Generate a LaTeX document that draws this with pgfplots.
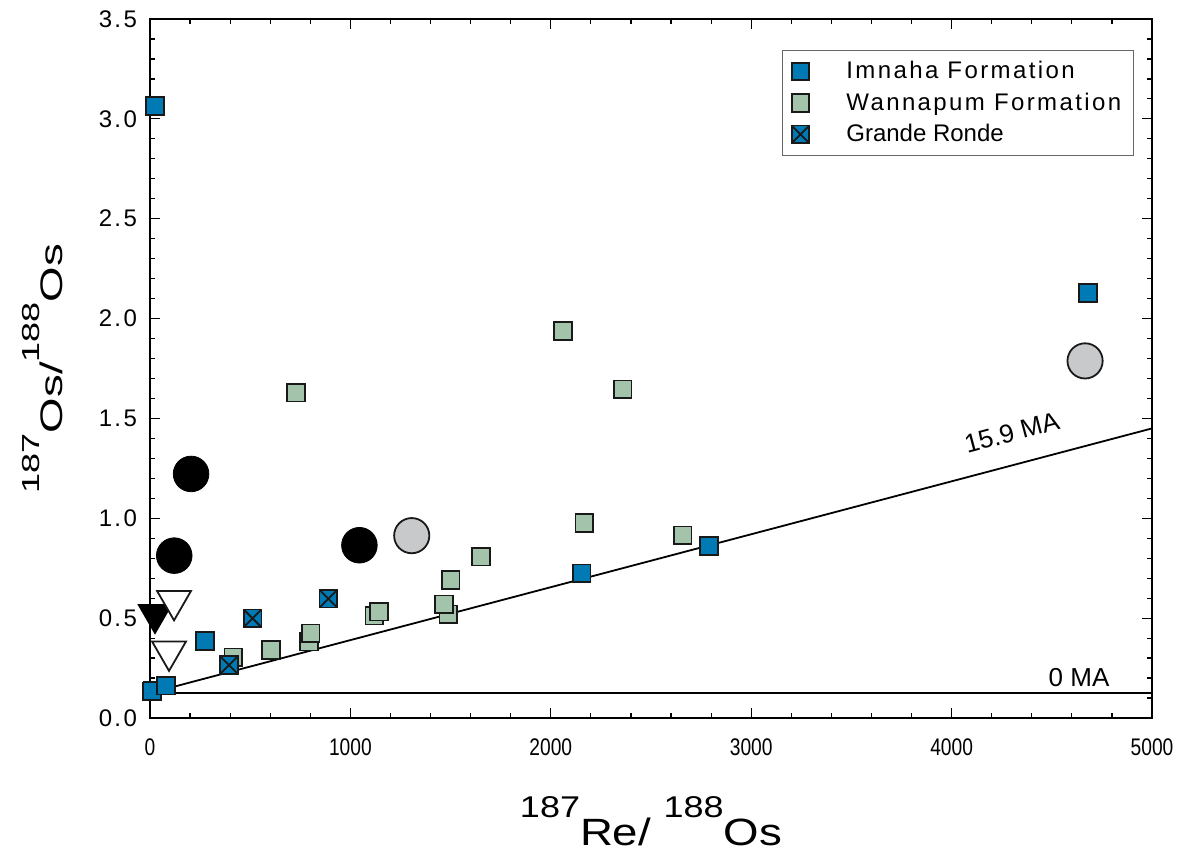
\documentclass[border=0pt]{standalone}
\usepackage{fontspec}
\setmainfont{Liberation Sans}
\newfontfamily\spaced[LetterSpace=10]{Liberation Sans}
\usepackage{graphicx}
\usepackage{pgfplots}
\pgfplotsset{compat=1.18}

\definecolor{imnaha}{RGB}{0,122,180}
\definecolor{wannapum}{RGB}{163,196,171}
\definecolor{paleGray}{RGB}{200,201,203}
\definecolor{edge}{RGB}{25,25,25}

% filled square crossed by both diagonals
\pgfdeclareplotmark{xsquare*}{%
  \pgfpathrectanglecorners{\pgfqpoint{-\pgfplotmarksize}{-\pgfplotmarksize}}{\pgfqpoint{\pgfplotmarksize}{\pgfplotmarksize}}%
  \pgfusepathqfillstroke
  \pgfpathmoveto{\pgfqpoint{-\pgfplotmarksize}{-\pgfplotmarksize}}%
  \pgfpathlineto{\pgfqpoint{\pgfplotmarksize}{\pgfplotmarksize}}%
  \pgfpathmoveto{\pgfqpoint{-\pgfplotmarksize}{\pgfplotmarksize}}%
  \pgfpathlineto{\pgfqpoint{\pgfplotmarksize}{-\pgfplotmarksize}}%
  \pgfusepathqstroke
}

% isotope with raised mass number
\newcommand{\iso}[2]{\raisebox{14pt}{\fontsize{15}{15}\selectfont #1}#2}

\pgfplotsset{
  pts/.style={only marks, line width=0.9pt,
    legend image code/.code={%
      \draw[##1] plot coordinates {(4.5pt,0pt)};
      \path (0pt,0pt) (25pt,0pt);}},
}

\begin{document}
\begin{tikzpicture}
\begin{axis}[
  name=ax,
  scale only axis,
  width=501pt, height=349.5pt,
  xmin=0, xmax=5000, ymin=0, ymax=3.5,
  xtick={0,1000,2000,3000,4000,5000},
  ytick={0,0.5,1,1.5,2,2.5,3,3.5},
  minor x tick num=4,
  minor y tick num=4,
  tick align=inside,
  major tick length=5pt,
  minor tick length=2.5pt,
  tick style={black, line width=0.6pt},
  axis line style={line width=1pt, black},
  /pgf/number format/assume math mode=true,
  tick label style={font=\fontsize{12}{14}\selectfont},
  yticklabel style={/pgf/number format/fixed, /pgf/number format/fixed zerofill,
    /pgf/number format/precision=1, font=\fontsize{12}{14}\selectfont\spaced, xshift=-3pt},
  xticklabel={\scalebox{0.8}[1]{\pgfmathprintnumber[1000 sep={}]{\tick}}},
  xticklabel style={yshift=-7pt},
  xlabel={\scalebox{1.2}[1]{\iso{187}{Re}/ \iso{188}{Os}}},
  ylabel={\scalebox{1.2}[0.82]{\iso{187}{Os}/\iso{188}{Os}}},
  every axis x label/.style={at={(axis description cs:0.5,-0.1817)}, anchor=base,
    font=\fontsize{19}{22}\selectfont},
  every axis y label/.style={at={(axis description cs:-0.0878,0.5)}, rotate=90, anchor=base,
    font=\fontsize{19}{22}\selectfont},
  legend style={at={(0.6307,0.956)}, anchor=north west, draw=gray!80!black,
    line width=0.6pt, inner xsep=4pt, inner ysep=3.5pt, row sep=1.5pt,
    nodes={inner sep=2pt}, font=\fontsize{12}{14}\selectfont},
  legend cell align=left,
  clip=false,
]

% reference isochrons
\addplot[black, line width=0.9pt, forget plot] coordinates {(0,0.125) (5000,0.125)};
\addplot[black, line width=0.9pt, forget plot] coordinates {(0,0.125) (5000,1.45)};
\node[rotate=15, font=\fontsize{13}{15}\selectfont] at (axis cs:4300,1.43) {15.9 MA};
\node[font=\fontsize{13}{15}\selectfont] at (axis cs:4636,0.205) {0 MA};

% Imnaha Formation
\addplot[pts, mark=square*, mark size=4.4pt, draw=edge, fill=imnaha] coordinates {
  (8,0.132) (11,0.136) (80,0.162) (274,0.386) (2154,0.725) (2789,0.861)
  (4681,2.128) (25,3.065)
};
\addlegendentry{\spaced Imnaha Formation}

% Wannapum Formation
\addplot[pts, mark=square*, mark size=4.4pt, draw=edge, fill=wannapum] coordinates {
  (416,0.304) (604,0.340) (793,0.382) (802,0.424) (1119,0.512) (1143,0.532)
  (1489,0.519) (1467,0.569) (1500,0.691) (1652,0.808) (2167,0.976)
  (2658,0.915) (729,1.629) (2061,1.938) (2359,1.646)
};
\addlegendentry{\spaced Wannapum Formation}

% Grande Ronde
\addplot[pts, mark=xsquare*, mark size=4.4pt, draw=edge, fill=imnaha] coordinates {
  (394,0.265) (512,0.499) (890,0.597)
};
\addlegendentry{Grande Ronde}

% other samples
\addplot[only marks, mark=*, mark size=8.9pt, draw=black, fill=black, forget plot] coordinates {
  (121,0.813) (205,1.222) (1045,0.865)
};
\addplot[only marks, mark=*, mark size=8.8pt, line width=0.9pt, draw=edge, fill=paleGray, forget plot] coordinates {
  (1306,0.913) (4666,1.788)
};
\addplot[only marks, mark=triangle*, mark size=9.3pt, mark options={rotate=180}, line width=0.9pt, draw=black, fill=black, forget plot] coordinates {
  (25,0.519)
};
\addplot[only marks, mark=triangle*, mark size=9.8pt, mark options={rotate=180}, line width=0.9pt, draw=edge, fill=white, forget plot] coordinates {
  (120,0.587) (95,0.334)
};
\end{axis}
\pgfresetboundingbox
\path[use as bounding box] ([shift={(-75pt,-68.5pt)}]ax.south west) rectangle ([shift={(18pt,9.5pt)}]ax.north east);
\end{tikzpicture}
\end{document}
